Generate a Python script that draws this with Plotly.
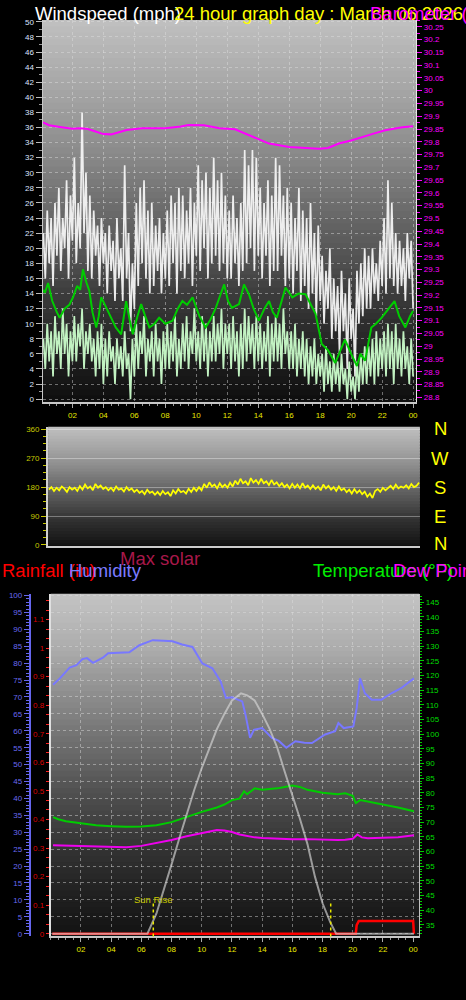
import plotly.graph_objects as go

W, H = 466, 1000
FONT = "Liberation Sans, Arial, sans-serif"

# ---------------- data ----------------
hour_ticks = [2, 4, 6, 8, 10, 12, 14, 16, 18, 20, 22, 24]
hour_labels = ["02", "04", "06", "08", "10", "12", "14", "16", "18", "20", "22", "00"]

# 7.5-minute samples over the day
wind_times = [(i + 1) * 7.5 / 60 for i in range(192)]
gust_mph = [
    22, 16, 25, 18, 24, 15, 26, 19,
    28, 17, 24, 20, 29, 16, 27, 21,
    32, 18, 26, 20, 38, 22, 30, 17,
    27, 16, 25, 19, 23, 15, 24, 18,
    22, 14, 23, 17, 21, 13, 24, 16,
    20, 13, 31, 16, 22, 9, 18, 12,
    26, 15, 28, 18, 29, 16, 25, 14,
    26, 15, 23, 17, 24, 14, 22, 16,
    25, 15, 27, 18, 26, 14, 28, 17,
    27, 16, 25, 18, 28, 15, 26, 19,
    31, 17, 29, 20, 30, 16, 28, 18,
    32, 19, 29, 17, 30, 18, 27, 16,
    25, 16, 27, 18, 24, 15, 26, 17,
    33, 18, 31, 20, 33, 17, 32, 19,
    28, 16, 26, 19, 29, 15, 27, 17,
    32, 17, 31, 19, 27, 15, 28, 16,
    26, 14, 24, 17, 28, 13, 25, 15,
    24, 12, 26, 14, 22, 11, 23, 13,
    19, 10, 17, 12, 20, 8, 16, 9,
    15, 6, 17, 9, 14, 4, 16, 8,
    12, 3, 17, 10, 18, 11, 20, 12,
    19, 12, 20, 14, 18, 13, 21, 15,
    24, 14, 29, 16, 26, 15, 22, 14,
    21, 15, 20, 13, 22, 16, 21, 12,
]
wind_mph = [
    8, 4, 10, 5, 9, 3, 11, 6,
    9, 4, 12, 6, 10, 3, 9, 5,
    11, 5, 10, 7, 12, 4, 9, 6,
    10, 5, 8, 3, 9, 4, 10, 2,
    8, 3, 9, 5, 7, 2, 8, 4,
    7, 3, 9, 4, 6, 0, 8, 3,
    10, 4, 9, 6, 11, 3, 8, 5,
    9, 3, 10, 5, 8, 2, 9, 4,
    10, 4, 9, 5, 11, 3, 8, 4,
    10, 5, 11, 4, 9, 6, 12, 5,
    9, 4, 11, 5, 10, 3, 9, 5,
    11, 5, 10, 6, 12, 4, 10, 6,
    10, 4, 11, 5, 9, 3, 10, 4,
    12, 5, 11, 6, 10, 4, 11, 5,
    10, 4, 9, 5, 11, 3, 10, 5,
    11, 5, 10, 4, 12, 6, 9, 4,
    9, 4, 10, 3, 8, 4, 9, 3,
    8, 2, 7, 3, 8, 2, 6, 3,
    6, 1, 7, 2, 5, 1, 6, 2,
    5, 1, 6, 2, 4, 0, 5, 1,
    3, 0, 5, 1, 6, 2, 7, 2,
    7, 3, 8, 2, 9, 3, 8, 4,
    9, 3, 10, 4, 9, 2, 10, 4,
    8, 3, 9, 4, 7, 2, 8, 3,
]

avg_hours = [0.1, 0.22, 0.43, 0.7, 1.0, 1.18, 1.5, 1.8, 2.04, 2.3, 2.5, 2.68, 2.9, 3.1,
             3.3, 3.54, 3.7, 3.86, 4.1, 4.5, 4.8, 5.15, 5.3, 5.47, 5.7, 5.9, 6.2, 6.44,
             6.7, 6.97, 7.3, 7.6, 8.0, 8.47, 8.8, 9.1, 9.4, 9.76, 10.2, 10.6, 10.9, 11.26,
             11.5, 11.8, 12.05, 12.3, 12.76, 13.08, 13.4, 13.7, 14.04, 14.4, 14.7, 14.95,
             15.2, 15.5, 15.76, 16.2, 16.6, 17.05, 17.4, 17.7, 18.1, 18.5, 18.97, 19.3,
             19.6, 20.0, 20.37, 20.6, 20.9, 21.3, 21.6, 21.97, 22.4, 22.8, 23.1, 23.5,
             23.8, 24.0]
avg_mph = [14.5, 14.1, 15.4, 13.0, 11.5, 10.8, 12.0, 12.5, 13.5, 15.0, 14.5, 17.2, 15.5, 14.3,
           11.5, 9.5, 11.0, 13.5, 12.5, 10.8, 9.5, 8.6, 11.0, 13.0, 10.5, 8.6, 11.0, 12.6,
           11.0, 9.5, 10.0, 10.8, 10.0, 10.4, 12.0, 13.0, 12.5, 13.5, 11.0, 9.5, 10.5, 12.1,
           13.5, 15.2, 13.0, 12.1, 12.6, 15.2, 13.9, 12.0, 10.4, 12.0, 13.0, 11.5,
           10.8, 13.0, 14.8, 13.5, 14.0, 13.9, 12.5, 11.3, 7.3, 6.5, 4.8, 6.5,
           7.9, 6.0, 4.4, 6.0, 5.1, 9.5, 10.0, 10.8, 12.0, 13.0, 11.0, 9.5,
           11.0, 11.7]

baro_hours = [0.1, 0.5, 1.2, 2.0, 2.5, 3.0, 3.5, 4.0, 4.5, 5.0, 5.5, 6.5, 8.0, 9.0, 9.5,
              10.5, 11.5, 12.5, 13.4, 14.0, 14.7, 16.0, 17.0, 17.9, 18.5, 19.2, 20.0,
              20.7, 21.5, 22.2, 23.3, 24.0]
baro_inhg = [29.876, 29.865, 29.858, 29.851, 29.853, 29.850, 29.840, 29.830, 29.829, 29.838,
             29.846, 29.853, 29.853, 29.860, 29.866, 29.865, 29.853, 29.849, 29.826, 29.808,
             29.793, 29.780, 29.776, 29.773, 29.776, 29.793, 29.805, 29.819, 29.833, 29.845,
             29.857, 29.861]
baro_ticks = [28.8, 28.85, 28.9, 28.95, 29.0, 29.05, 29.1, 29.15, 29.2, 29.25, 29.3, 29.35,
              29.4, 29.45, 29.5, 29.55, 29.6, 29.65, 29.7, 29.75, 29.8, 29.85, 29.9, 29.95,
              30.0, 30.05, 30.1, 30.15, 30.2, 30.25]

# 10-minute wind direction samples
dir_times = [(i + 1) * 10 / 60 for i in range(144)]
dir_deg = [
    172, 180, 168, 178, 170, 182,
    175, 165, 180, 172, 178, 168,
    183, 172, 188, 176, 182, 170,
    190, 178, 185, 174, 180, 170,
    178, 168, 182, 172, 176, 166,
    180, 170, 176, 165, 172, 162,
    168, 158, 172, 162, 166, 156,
    165, 155, 168, 158, 164, 152,
    170, 160, 174, 164, 168, 160,
    175, 165, 178, 168, 180, 170,
    190, 178, 195, 182, 188, 176,
    192, 180, 188, 178, 194, 182,
    200, 188, 206, 192, 198, 186,
    208, 194, 202, 190, 206, 192,
    198, 186, 202, 188, 195, 183,
    192, 180, 188, 176, 190, 178,
    188, 176, 192, 178, 185, 174,
    186, 174, 182, 170, 188, 176,
    184, 172, 180, 168, 182, 170,
    176, 164, 172, 160, 174, 162,
    170, 158, 166, 150, 160, 146,
    168, 174, 165, 178, 170, 176,
    184, 174, 188, 176, 182, 178,
    186, 176, 190, 180, 184, 194,
]
dir_ticks = [0, 90, 180, 270, 360]
compass_letters = ["N", "W", "S", "E", "N"]

hum_hours = [0.15, 0.6, 1.25, 1.7, 2.1, 2.4, 2.8, 3.45, 3.8, 4.5, 5.2, 5.87, 6.75, 7.5, 8.06,
             8.7, 9.38, 10.04, 10.7, 11.25, 11.6, 12.0, 12.46, 12.68, 12.9, 13.2, 13.45,
             14.0, 14.65, 15.1, 15.6, 16.2, 16.8, 17.3, 18.17, 18.83, 19.05, 19.4, 20.04,
             20.26, 20.48, 20.8, 21.25, 21.9, 22.56, 23.2, 24.05]
hum_pct = [73.6, 75.5, 78.7, 79.4, 81.2, 81.5, 80.1, 81.6, 82.9, 83.0, 83.2, 85.3, 86.8, 86.6,
           86.5, 85.5, 84.8, 79.9, 78.5, 74.6, 69.7, 69.9, 69.2, 68.7, 64.7, 57.9, 60.3,
           60.8, 57.9, 57.0, 55.0, 56.9, 56.5, 56.4, 58.9, 59.9, 62.3, 60.8, 61.3,
           66.7, 75.5, 71.1, 69.2, 69.2, 71.1, 72.6, 75.5]

temp_hours = [0.15, 0.5, 1, 2, 3, 4, 5, 6, 7, 8, 9, 10, 11, 11.5, 12, 12.5, 12.8, 13, 13.5,
              14, 14.5, 15, 15.5, 16, 16.5, 17, 17.5, 18, 19, 19.5, 20, 20.2, 20.5, 21, 22,
              23, 24.05]
temp_f = [71.7, 71.0, 70.3, 69.5, 68.9, 68.6, 68.4, 68.5, 68.9, 70.0, 71.8, 73.5, 75.0, 76.0,
          77.5, 78.0, 80.5, 79.5, 81.5, 81.0, 81.3, 81.5, 82.0, 82.5, 82.0, 81.0, 80.5, 80.0,
          79.5, 79.8, 79.0, 76.5, 77.5, 77.0, 76.0, 75.0, 73.7]

dew_hours = [0.15, 1, 2, 3, 4, 5, 6, 7, 8, 9, 10, 10.5, 11, 11.5, 12, 12.5, 13, 13.5, 14, 15,
             16, 17, 18, 19, 19.5, 20, 20.3, 20.6, 21, 22, 23, 24.05]
dew_f = [62.1, 62.0, 61.8, 61.6, 61.4, 61.4, 61.9, 62.8, 63.9, 65.2, 66.3, 66.8, 67.3, 67.1,
         66.6, 65.8, 65.2, 64.8, 64.6, 64.3, 64.2, 64.2, 64.0, 63.9, 64.0, 64.3, 65.8, 64.8,
         64.5, 64.6, 64.8, 65.5]

solar_hours = [0.1, 6.4, 7, 7.5, 8, 8.5, 9, 9.5, 10, 10.5, 11, 11.5, 12, 12.6, 13, 13.5, 14,
               14.5, 15, 15.5, 16, 16.5, 17, 17.5, 18, 18.5, 18.9, 24.05]
solar_wm2 = [0, 0, 60, 130, 205, 280, 355, 425, 490, 550, 605, 650, 690, 711, 705, 690, 650,
             605, 550, 478, 410, 340, 265, 168, 90, 35, 0, 0]

rain_hours = [0.1, 20.2, 20.26, 20.4, 24.0, 24.05]
rain_in = [0, 0, 0.03, 0.045, 0.045, 0]
rain_ticks = [0, 0.1, 0.2, 0.3, 0.4, 0.5, 0.6, 0.7, 0.8, 0.9, 1.0, 1.1]

sunrise_hour = 6.79
sunset_hour = 18.54


# ---------------- helpers ----------------
def fx(p):
    return p / W


def fy(p):
    return 1 - p / H


def gray_at(stops, f):
    for (f0, g0), (f1, g1) in zip(stops, stops[1:]):
        if f0 <= f <= f1:
            t = (f - f0) / (f1 - f0)
            return int(round(g0 + (g1 - g0) * t))
    return stops[-1][1]


def gradient(xref, yref, stops, n=60):
    out = []
    for i in range(n):
        f0, f1 = i / n, (i + 1) / n
        g = gray_at(stops, (f0 + f1) / 2)
        out.append(dict(type="rect", xref=xref + " domain", yref=yref + " domain",
                        x0=0, x1=1, y0=f0, y1=min(1.0, f1 + 0.6 / n),
                        fillcolor=f"rgb({g},{g},{g})",
                        line=dict(width=0), layer="below"))
    return out


fig = go.Figure()

# panel 1: wind + barometer
fig.add_trace(go.Scatter(x=wind_times, y=gust_mph, mode="lines",
                         line=dict(color="rgba(244,244,244,0.95)", width=1.7),
                         xaxis="x", yaxis="y"))
fig.add_trace(go.Scatter(x=wind_times, y=wind_mph, mode="lines",
                         line=dict(color="#c2f2c2", width=1.7),
                         xaxis="x", yaxis="y"))
fig.add_trace(go.Scatter(x=avg_hours, y=avg_mph, mode="lines",
                         line=dict(color="#00cc00", width=2),
                         xaxis="x", yaxis="y"))
fig.add_trace(go.Scatter(x=baro_hours, y=baro_inhg, mode="lines",
                         line=dict(color="#ff00ff", width=2),
                         xaxis="x", yaxis="y2"))

# panel 2: wind direction
fig.add_trace(go.Scatter(x=dir_times, y=dir_deg, mode="lines",
                         line=dict(color="#ffff00", width=1.7),
                         xaxis="x2", yaxis="y3"))

# panel 3
fig.add_trace(go.Scatter(x=rain_hours, y=rain_in, mode="lines",
                         line=dict(color="#ff0000", width=2.5),
                         xaxis="x3", yaxis="y4"))
fig.add_trace(go.Scatter(x=solar_hours, y=solar_wm2, mode="lines",
                         line=dict(color="rgba(215,215,215,0.65)", width=2),
                         xaxis="x3", yaxis="y7"))
fig.add_trace(go.Scatter(x=hum_hours, y=hum_pct, mode="lines",
                         line=dict(color="#7878ff", width=2),
                         xaxis="x3", yaxis="y5"))
fig.add_trace(go.Scatter(x=dew_hours, y=dew_f, mode="lines",
                         line=dict(color="#ee00ee", width=2),
                         xaxis="x3", yaxis="y6"))
fig.add_trace(go.Scatter(x=temp_hours, y=temp_f, mode="lines",
                         line=dict(color="#00cc00", width=2),
                         xaxis="x3", yaxis="y6"))

grid_col = "rgba(225,225,225,0.45)"
tick_font = dict(family=FONT, size=8)

shapes = []
shapes += gradient("x", "y", [(0, 14), (0.135, 34), (0.26, 55), (0.39, 85), (0.52, 110),
                              (0.65, 138), (0.78, 160), (1.0, 192)])
shapes += gradient("x2", "y3", [(0, 18), (0.22, 50), (0.47, 100), (0.72, 150), (1.0, 192)], n=40)
shapes += gradient("x3", "y4", [(0, 18), (0.12, 32), (0.26, 52), (0.41, 78), (0.55, 108),
                                (0.7, 140), (0.84, 172), (1.0, 196)])
for hr in (sunrise_hour, sunset_hour):
    shapes.append(dict(type="line", xref="x3", yref="paper", x0=hr, x1=hr,
                       y0=fy(940), y1=fy(905), line=dict(color="#e8e800", width=1.5, dash="dot")))

annotations = []


def label(text, x, y, color, size=18.5, anchor="left"):
    annotations.append(dict(text=text, x=fx(x), y=fy(y), xref="paper", yref="paper",
                            xanchor=anchor, yanchor="middle", showarrow=False,
                            font=dict(family=FONT, size=size, color=color)))


label("Windspeed (mph)", 33, 10.3, "#ffffff")
label("24 hour graph day : March 06 2026", 173, 10.3, "#ffff00")
label("Barometer (inHg)", 370, 10.3, "#ff00ff")
for letter, yy in zip(compass_letters, [428.6, 458.6, 487.9, 516.9, 544.3]):
    label(letter, 442, yy, "#ffff00", anchor="center")
label("Max solar", 119, 559.6, "#a8184a")
label("Rainfall (in)", 0, 571.9, "#ff0000")
label("Humidity", 67, 571.9, "#7b7bff")
label("Temperature (°F)", 312, 571.9, "#00ee00")
label("Dew Point (°F)", 393, 571.9, "#ff00ff")
annotations.append(dict(text="Sun Rise", x=sunrise_hour, y=fy(902.4), xref="x3", yref="paper",
                        xanchor="center", yanchor="middle", showarrow=False,
                        font=dict(family=FONT, size=9.5, color="#c8c800")))

fig.update_layout(
    width=W, height=H, autosize=False,
    margin=dict(l=0, r=0, t=0, b=0, pad=0),
    paper_bgcolor="#000000", plot_bgcolor="#000000",
    showlegend=False, hovermode=False,
    shapes=shapes, annotations=annotations,
    xaxis=dict(domain=[fx(42.7), fx(418)], range=[0.07, 24.2], anchor="y",
               tickmode="array", tickvals=hour_ticks, ticktext=hour_labels,
               ticks="outside", ticklen=4, tickcolor="#aaaaaa",
               tickfont=dict(tick_font, color="#e8e800"),
               showline=True, linecolor="#c8c8c8", linewidth=2,
               showgrid=True, gridcolor=grid_col, griddash="dot", zeroline=False,
               minor=dict(dtick=0.5, tick0=0, ticks="outside", ticklen=2,
                          tickcolor="#999999", showgrid=False)),
    yaxis=dict(domain=[fy(402), fy(17)], range=[-0.4, 50.26], anchor="x",
               dtick=2, tick0=0, ticks="outside", ticklen=6, tickcolor="#bbbbbb",
               tickfont=dict(tick_font, color="#dde4ff"),
               showline=True, linecolor="#c8c8c8", linewidth=1,
               showgrid=True, gridcolor=grid_col, griddash="dot", zeroline=False,
               minor=dict(dtick=1, tick0=0, ticks="outside", ticklen=3,
                          tickcolor="#999999", showgrid=False)),
    yaxis2=dict(overlaying="y", side="right", anchor="x", range=[28.781, 30.277],
                tickmode="array", tickvals=baro_ticks,
                ticktext=[f"{v:g}" for v in baro_ticks],
                ticks="outside", ticklen=5, tickcolor="#ff00ff",
                tickfont=dict(tick_font, color="#ff00ff"),
                showline=True, linecolor="#e8e8e8", linewidth=1,
                showgrid=False, zeroline=False,
                minor=dict(dtick=0.025, tick0=28.8, ticks="outside", ticklen=3,
                           tickcolor="#ff00ff", showgrid=False)),
    xaxis2=dict(domain=[fx(48.3), fx(421.7)], range=[0.12, 24.05], anchor="y3",
                showticklabels=False, ticks="", showline=True, linecolor="#cccccc",
                linewidth=2, showgrid=False, zeroline=False),
    yaxis3=dict(domain=[fy(546.7), fy(426.7)], range=[-3, 368], anchor="x2",
                tickmode="array", tickvals=dir_ticks,
                ticks="outside", ticklen=5, tickcolor="#c8c800",
                tickfont=dict(tick_font, color="#c8c800"),
                showline=True, linecolor="#d0d0d0", linewidth=2,
                showgrid=True, gridcolor="rgba(255,255,255,0.35)", zeroline=False,
                minor=dict(dtick=22.5, tick0=0, ticks="outside", ticklen=3,
                           tickcolor="#c8c800", showgrid=False)),
    xaxis3=dict(domain=[fx(51), fx(421)], range=[0, 24.4], anchor="y4",
                tickmode="array", tickvals=hour_ticks, ticktext=hour_labels,
                ticks="outside", ticklen=4, tickcolor="#aaaaaa",
                tickfont=dict(tick_font, color="#e8e800"),
                showline=True, linecolor="#c8c8c8", linewidth=2,
                showgrid=True, gridcolor=grid_col, griddash="dot", zeroline=False,
                minor=dict(dtick=0.5, tick0=0, ticks="outside", ticklen=2,
                           tickcolor="#999999", showgrid=False)),
    yaxis4=dict(domain=[fy(940), fy(595)], range=[-0.0094, 1.19], anchor="x3", side="left",
                tickmode="array", tickvals=rain_ticks,
                ticktext=[f"{v:g}" for v in rain_ticks],
                ticks="outside", ticklen=3, tickcolor="#ff2020",
                tickfont=dict(tick_font, color="#dd0000"),
                showline=True, linecolor="#e0e0e0", linewidth=2,
                showgrid=False, zeroline=False,
                minor=dict(dtick=0.1 / 3, tick0=0, ticks="outside", ticklen=3,
                           tickcolor="#ff2020", showgrid=False)),
    yaxis5=dict(overlaying="y4", anchor="free", position=fx(30), side="left",
                range=[-0.8, 100.5], dtick=5, tick0=0,
                ticks="outside", ticklen=5, tickcolor="#6666ee",
                tickfont=dict(tick_font, color="#6a6af0"),
                showline=True, linecolor="#6666ee", linewidth=2,
                showgrid=True, gridcolor=grid_col, griddash="dot", zeroline=False,
                minor=dict(dtick=1, tick0=0, ticks="outside", ticklen=3,
                           tickcolor="#6666ee", showgrid=False)),
    yaxis6=dict(overlaying="y4", anchor="x3", side="right", range=[31.04, 147.8],
                dtick=5, tick0=35, ticks="outside", ticklen=4, tickcolor="#00cc00",
                tickfont=dict(tick_font, color="#00dd00"),
                showline=True, linecolor="#c0c0c0", linewidth=1,
                showgrid=False, zeroline=False,
                minor=dict(dtick=1, tick0=35, ticks="outside", ticklen=2,
                           tickcolor="#00cc00", showgrid=False)),
    yaxis7=dict(overlaying="y4", anchor="x3", visible=False, range=[-8, 1005]),
)

page_fix = ("document.documentElement.style.margin='0';"
            "document.body.style.margin='0';"
            "document.body.style.overflow='hidden';"
            "document.documentElement.style.overflow='hidden';")

fig.write_html("out.html", post_script=page_fix,
               config={"displayModeBar": False, "staticPlot": True})
